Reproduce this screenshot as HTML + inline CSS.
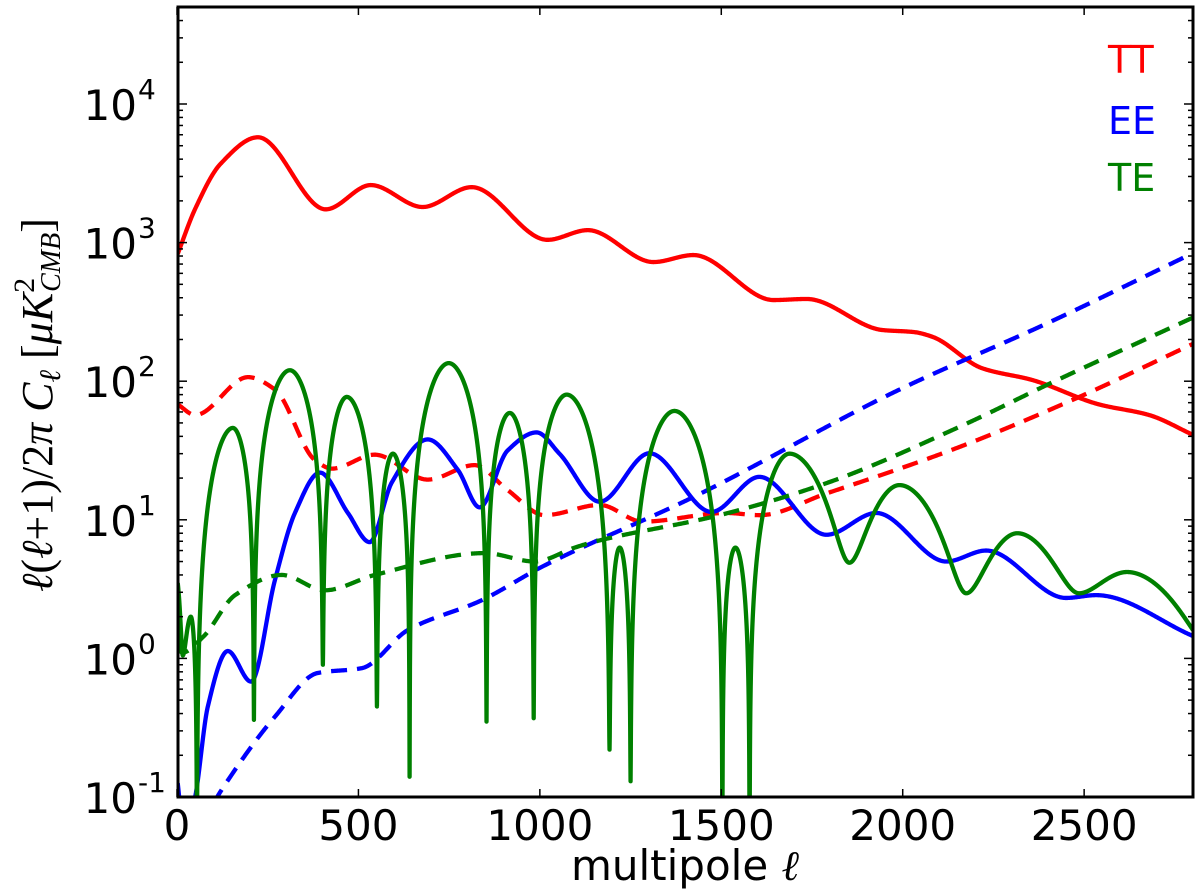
<!DOCTYPE html>
<html><head><meta charset="utf-8"><style>
html,body{margin:0;padding:0;background:#fff;}
svg{display:block;}
.sans{font-family:"DejaVu Sans","Liberation Sans",sans-serif;}
.serif{font-family:"Liberation Serif","DejaVu Serif",serif;}
</style></head><body>
<svg id="chart" width="1200" height="895" viewBox="0 0 1200 895" xmlns="http://www.w3.org/2000/svg">
<defs><clipPath id="plotclip"><rect x="178" y="7" width="1015" height="790"/></clipPath></defs>
<g id="series" clip-path="url(#plotclip)"></g>
<rect x="178" y="7" width="1015" height="790" fill="none" stroke="#000" stroke-width="3"/>
<g id="ticks"></g>
<g id="labels" class="sans"></g>
<text class="sans" x="685" y="880" font-size="42" text-anchor="middle">multipole <tspan class="serif" font-style="italic">ℓ</tspan></text>
<text class="serif" transform="translate(52,405) rotate(-90)" font-size="44" text-anchor="middle"><tspan font-style="italic">ℓ</tspan>(<tspan font-style="italic">ℓ</tspan>+1)/2<tspan font-style="italic">π</tspan> <tspan font-style="italic">C</tspan><tspan font-size="30" dy="8" font-style="italic">ℓ</tspan><tspan dy="-8">  [</tspan><tspan font-style="italic">μK</tspan><tspan font-size="30" dy="-18">2</tspan><tspan font-size="28" dy="26" dx="-14" font-style="italic">CMB</tspan><tspan dy="-8">]</tspan></text>
<text class="sans" x="1108" y="73" font-size="38" fill="#ff0000">TT</text>
<text class="sans" x="1108" y="134" font-size="38" fill="#0000ff">EE</text>
<text class="sans" x="1108" y="191" font-size="38" fill="#008000">TE</text>
</svg>
<script>
const ttL=[2,50,120,223,410,534,677,812,1021,1132,1313,1423,1644,1735,1944,2032,2082,2219,2357,2541,2679,2800];
const ttV=[830,1750,3700,5754,1738,2600,1807,2512,1047,1230,724,813,385,392,234,226,209,124,102,68,57,41];
const eeL=[2,20,50,85,140,204,270,325,394,471,531,592,691,774,834,911,991,1054,1165,1302,1473,1605,1790,1927,2120,2230,2450,2533,2800];
const eeV=[0.126,0.05,0.1,0.45,1.13,0.68,3.68,11.2,21.9,11.2,6.9,18.6,38,22.9,12.3,31.6,42.7,30,13.5,30.2,11.4,20.4,7.8,11.2,5.0,6.0,2.73,2.86,1.45];
const teL=[2,16,38,55,154,212,311,402,468,551,595,641,749,853,917,983,1074,1192,1220,1250,1371,1503,1539,1578,1688,1853,1991,2175,2316,2486,2618,2800];
const teV=[3.5,1.05,2.0,0,-46,0,120,0,-77,0,30,0,-135,0,59,0,-80,0,6.3,0,-61,0,6.3,0,-30,-4.9,-17.8,-2.95,-8,-2.95,-4.2,-1.6];
const teZeroL=[55,212,402,551,641,853,983,1192,1250,1503,1578];
const teZeroDepth=[0.01,0.36,0.9,0.45,0.14,0.35,0.37,0.22,0.13,0.01,0.01];
const ttNoiseL=[2,50,196,270,380,427,545,691,820,911,1013,1165,1283,1514,1605,1790,2156,2486,2800];
const ttNoiseV=[68,57,107,87,27,23.4,29.5,19.5,24.8,16.4,10.8,12.8,9.7,11.2,10.8,15.5,33.5,76.9,186];
const eeNoiseL=[100,127,270,388,509,636,840,1005,1421,1991,2400,2800];
const eeNoiseV=[0.09,0.117,0.38,0.785,0.85,1.6,2.63,4.57,14.5,87,263,840];
const teNoiseL=[2,14,72,160,289,407,545,848,986,1096,1146,1495,1790,2156,2412,2800];
const teNoiseV=[1.26,1.1,1.43,2.86,4.0,3.1,4.0,5.75,5.0,6.3,6.9,10.8,18.4,46.8,98,288];
const xTicks=[0,500,1000,1500,2000,2500];
const yExps=[-1,0,1,2,3,4];

const NS='http://www.w3.org/2000/svg';
const X0=177,XW=1016,XMAX=2800,YB=797,DEC=138.6;
const xs=l=>X0+l*XW/XMAX;
const ys=v=>YB-(Math.log10(v)+1)*DEC;

function pchip(xa,ya){
  const n=xa.length,h=[],d=[],m=new Array(n);
  for(let i=0;i<n-1;i++){h.push(xa[i+1]-xa[i]);d.push((ya[i+1]-ya[i])/h[i]);}
  m[0]=d[0];m[n-1]=d[n-2];
  for(let i=1;i<n-1;i++){
    if(d[i-1]*d[i]<=0)m[i]=0;
    else{const w1=2*h[i]+h[i-1],w2=h[i]+2*h[i-1];m[i]=(w1+w2)/(w1/d[i-1]+w2/d[i]);}
  }
  return x=>{
    let i=0;while(i<n-2&&x>xa[i+1])i++;
    const t=(x-xa[i])/h[i],t2=t*t,t3=t2*t;
    return (2*t3-3*t2+1)*ya[i]+(t3-2*t2+t)*h[i]*m[i]+(-2*t3+3*t2)*ya[i+1]+(t3-t2)*h[i]*m[i+1];
  };
}
const g=document.getElementById('series');
function addPath(pts,color,dashed,name){
  const p=document.createElementNS(NS,'path');
  p.setAttribute('d','M'+pts.map(q=>q[0].toFixed(2)+','+q[1].toFixed(2)).join('L'));
  p.setAttribute('fill','none');p.setAttribute('stroke',color);
  p.setAttribute('stroke-width','4.3');p.setAttribute('stroke-linejoin','round');
  if(dashed)p.setAttribute('stroke-dasharray','16,10');
  
  
  g.appendChild(p);
}
function logSeries(L,V,color,dashed,name){
  const f=pchip(L,V.map(v=>Math.log10(v)));
  const pts=[];
  for(let l=L[0];l<=L[L.length-1];l+=2)pts.push([xs(l),ys(Math.pow(10,f(l)))]);
  addPath(pts,color,dashed,name);
}
logSeries(ttL,ttV,'#ff0000',false,'tt-spectrum-line');
logSeries(ttNoiseL,ttNoiseV,'#ff0000',true,'tt-noise-line');
logSeries(eeL,eeV,'#0000ff',false,'ee-spectrum-line');
logSeries(eeNoiseL,eeNoiseV,'#0000ff',true,'ee-noise-line');
logSeries(teNoiseL,teNoiseV,'#008000',true,'te-noise-line');
(function(){
  const f=pchip(teL,teV);
  const samp=[];
  for(let l=teL[0];l<=2800;l+=0.5)samp.push(l);
  teZeroL.forEach(z=>samp.push(z));
  samp.sort((a,b)=>a-b);
  const pts=samp.map(l=>{
    let bi=0;teZeroL.forEach((z,i)=>{if(Math.abs(z-l)<Math.abs(teZeroL[bi]-l))bi=i;});
    const d=teZeroDepth[bi],v=f(l);
    const a=Math.max(Math.sqrt(v*v+d*d),0.02);
    return [xs(l),ys(a)];
  });
  addPath(pts,'#008000',false,'te-spectrum-line');
})();

const tk=document.getElementById('ticks'),lb=document.getElementById('labels');
function line(x1,y1,x2,y2,w,name){
  const e=document.createElementNS(NS,'line');
  e.setAttribute('x1',x1);e.setAttribute('y1',y1);e.setAttribute('x2',x2);e.setAttribute('y2',y2);
  e.setAttribute('stroke','#000');e.setAttribute('stroke-width',w);
  
  
  tk.appendChild(e);
}
xTicks.forEach(t=>{
  const x=xs(t);
  line(x,YB,x,YB-8,1.5,'x-tick');line(x,7,x,15,1.5,'x-tick');
  const tx=document.createElementNS(NS,'text');
  tx.setAttribute('x',x);tx.setAttribute('y',840);tx.setAttribute('font-size','42');
  tx.setAttribute('text-anchor','middle');tx.textContent=t;
  
  
  lb.appendChild(tx);
});
for(let e=-1;e<=4;e++){
  for(let k=1;k<=9;k++){
    const v=k*Math.pow(10,e),y=ys(v);
    if(y<7)continue;
    const len=k===1?9:5;
    line(178,y,178+len,y,1.5,'y-tick');line(1193,y,1193-len,y,1.5,'y-tick');
  }
}
yExps.forEach(e=>{
  const y=ys(Math.pow(10,e));
  const tx=document.createElementNS(NS,'text');
  tx.setAttribute('x',137);tx.setAttribute('y',y+16);tx.setAttribute('font-size','42');
  tx.setAttribute('text-anchor','end');tx.textContent='10';
  
  
  lb.appendChild(tx);
  const sp=document.createElementNS(NS,'text');
  sp.setAttribute('x',138);sp.setAttribute('y',y-5);sp.setAttribute('font-size','28');
  sp.textContent=e;
  
  
  lb.appendChild(sp);
});
</script>
</body></html>
